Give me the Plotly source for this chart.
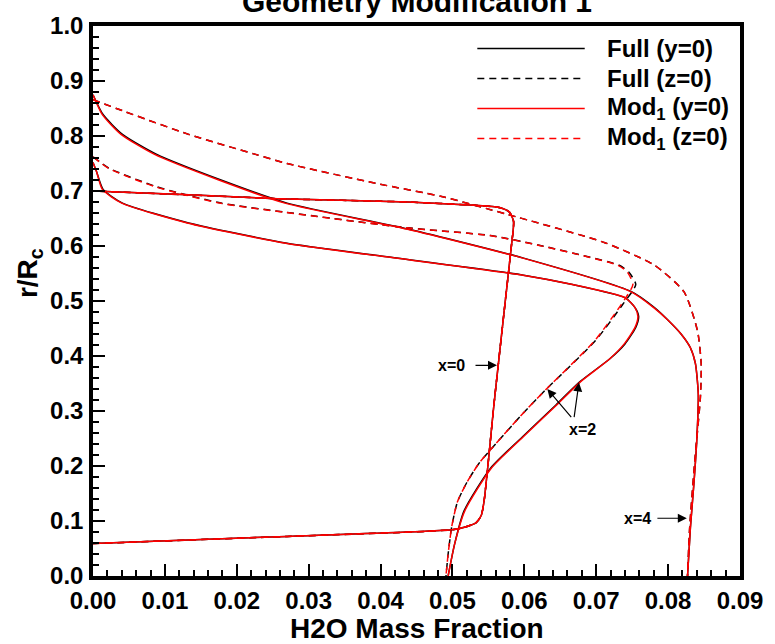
import plotly.graph_objects as go

# radial positions (r/Rc) along each profile
r_x0 = [0.059, 0.072, 0.084, 0.089, 0.097, 0.110, 0.136, 0.315, 0.494, 0.600, 0.645,
        0.662, 0.670, 0.674, 0.680, 0.686, 0.693, 0.700]
r_x2_y0 = [0.752, 0.735, 0.703, 0.678, 0.642, 0.605, 0.583, 0.547, 0.530, 0.506, 0.488,
           0.472, 0.452, 0.422, 0.395, 0.353, 0.311, 0.255, 0.196, 0.118, 0.058, 0.0]
r_x2_z0 = [0.762, 0.741, 0.708, 0.678, 0.661, 0.633, 0.619, 0.601, 0.580, 0.565, 0.553,
           0.530, 0.494, 0.428, 0.339, 0.297, 0.240, 0.205, 0.170, 0.135, 0.090, 0.040, 0.0]
r_x4_y0 = [0.875, 0.839, 0.803, 0.767, 0.720, 0.678, 0.631, 0.578, 0.517, 0.488, 0.465,
           0.440, 0.415, 0.386, 0.330, 0.250, 0.170, 0.088, 0.0]
r_x4_z0 = [0.866, 0.846, 0.803, 0.767, 0.750, 0.714, 0.690, 0.658, 0.606, 0.565, 0.517,
           0.445, 0.386, 0.327, 0.208, 0.088, 0.0]

# H2O mass fraction, full geometry
full_x0 = [0.0, 0.0270, 0.0499, 0.0518, 0.0533, 0.0540, 0.0544, 0.0558, 0.0573, 0.0582, 0.0585,
           0.0579, 0.0565, 0.0530, 0.0438, 0.0256, 0.0133, 0.0]
full_x2_y0 = [0.0, 0.0005, 0.0014, 0.0041, 0.0133, 0.0270, 0.0393, 0.0599, 0.0667, 0.0740, 0.0754,
              0.0759, 0.0755, 0.0740, 0.0719, 0.0677, 0.0644, 0.0599, 0.0553, 0.0516, 0.0503, 0.0494]
full_x2_z0 = [0.0, 0.0023, 0.0088, 0.0178, 0.0270, 0.0438, 0.0553, 0.0622, 0.0690, 0.0732, 0.0745,
              0.0755, 0.0737, 0.0699, 0.0630, 0.0599, 0.0560, 0.0537, 0.0520, 0.0507, 0.0499, 0.0494,
              0.0491]
full_x4_y0 = [0.0, 0.0014, 0.0041, 0.0088, 0.0178, 0.0270, 0.0438, 0.0599, 0.0749, 0.0781, 0.0800,
              0.0818, 0.0831, 0.0838, 0.0842, 0.0840, 0.0836, 0.0831, 0.0827]
full_x4_z0 = [0.0, 0.0041, 0.0133, 0.0225, 0.0270, 0.0393, 0.0485, 0.0575, 0.0712, 0.0781, 0.0822,
              0.0841, 0.0846, 0.0845, 0.0837, 0.0830, 0.0827]

# H2O mass fraction, modification 1
mod_x0 = [0.0, 0.0270, 0.0499, 0.0518, 0.0533, 0.0540, 0.0544, 0.0558, 0.0573, 0.0582, 0.0585,
          0.0579, 0.0565, 0.0530, 0.0438, 0.0256, 0.0133, 0.0]
mod_x2_y0 = [0.0, 0.0005, 0.0013, 0.0040, 0.0131, 0.0268, 0.0392, 0.0598, 0.0667, 0.0740, 0.0754,
             0.0758, 0.0754, 0.0739, 0.0719, 0.0678, 0.0645, 0.0600, 0.0554, 0.0517, 0.0503, 0.0494]
mod_x2_z0 = [0.0, 0.0022, 0.0086, 0.0176, 0.0268, 0.0437, 0.0552, 0.0621, 0.0689, 0.0730, 0.0743,
             0.0751, 0.0735, 0.0698, 0.0630, 0.0599, 0.0560, 0.0537, 0.0520, 0.0507, 0.0499, 0.0494,
             0.0491]
mod_x4_y0 = [0.0, 0.0013, 0.0039, 0.0085, 0.0175, 0.0267, 0.0436, 0.0598, 0.0748, 0.0780, 0.0800,
             0.0818, 0.0831, 0.0838, 0.0842, 0.0840, 0.0836, 0.0831, 0.0827]
mod_x4_z0 = [0.0, 0.0041, 0.0133, 0.0225, 0.0270, 0.0393, 0.0485, 0.0575, 0.0712, 0.0781, 0.0822,
             0.0841, 0.0846, 0.0845, 0.0837, 0.0830, 0.0827]

legend_labels = ["Full (y=0)", "Full (z=0)", "Mod<sub>1</sub> (y=0)", "Mod<sub>1</sub> (z=0)"]
legend_colors = ["black", "black", "red", "red"]

DASH = "7px,5px"
FONT = "Liberation Sans"

fig = go.Figure()

series = [
    (full_x0, r_x0, "black", "solid"),
    (full_x2_y0, r_x2_y0, "black", "solid"),
    (full_x4_y0, r_x4_y0, "black", "solid"),
    (full_x0, r_x0, "black", DASH),
    (full_x2_z0, r_x2_z0, "black", DASH),
    (full_x4_z0, r_x4_z0, "black", DASH),
    (mod_x0, r_x0, "red", "solid"),
    (mod_x2_y0, r_x2_y0, "red", "solid"),
    (mod_x4_y0, r_x4_y0, "red", "solid"),
    (mod_x0, r_x0, "red", DASH),
    (mod_x2_z0, r_x2_z0, "red", DASH),
    (mod_x4_z0, r_x4_z0, "red", DASH),
]
for xs, ys, color, dash in series:
    fig.add_trace(go.Scatter(x=xs, y=ys, mode="lines", showlegend=False,
                             line=dict(color=color, width=1.5, dash=dash,
                                       shape="spline", smoothing=0.6)))

# hand-drawn legend (long line samples like the original)
shapes = []
annotations = []
for i, (label, color) in enumerate(zip(legend_labels, legend_colors)):
    yy = 0.959 - i * 0.0545
    shapes.append(dict(type="line", xref="paper", yref="paper", x0=0.594, x1=0.760, y0=yy, y1=yy,
                       line=dict(color=color, width=1.5, dash="solid" if i % 2 == 0 else DASH)))
    annotations.append(dict(xref="paper", yref="paper", x=0.792, y=yy, text=label, showarrow=False,
                            xanchor="left", yanchor="middle",
                            font=dict(family=FONT, size=24, color="black", weight="bold")))

# station labels
lab_font = dict(family=FONT, size=16, color="black", weight="bold")
arrow = dict(showarrow=True, arrowhead=2, arrowsize=1.5, arrowwidth=1.2, arrowcolor="black",
             axref="x", ayref="y", text="")
annotations += [
    dict(x=0.0499, y=0.383, text="x=0", showarrow=False, font=lab_font),
    dict(x=0.0562, y=0.383, ax=0.0530, ay=0.383, **arrow),
    dict(x=0.0681, y=0.2665, text="x=2", showarrow=False, font=lab_font),
    dict(x=0.0632, y=0.340, ax=0.0667, ay=0.286, **arrow),
    dict(x=0.0676, y=0.352, ax=0.0669, ay=0.286, **arrow),
    dict(x=0.0758, y=0.104, text="x=4", showarrow=False, font=lab_font),
    dict(x=0.0826, y=0.105, ax=0.0783, ay=0.105, **arrow),
]

# titles
annotations += [
    dict(xref="paper", yref="paper", x=0.5, y=1.0, yanchor="bottom", yshift=6,
         text="Geometry Modification 1", showarrow=False,
         font=dict(family=FONT, size=30, color="black", weight="bold")),
    dict(xref="paper", yref="paper", x=0.5, y=-0.0948, yanchor="middle",
         text="H2O Mass Fraction", showarrow=False,
         font=dict(family=FONT, size=28, color="black", weight="bold")),
    dict(xref="paper", yref="paper", x=-0.098, y=0.55, xanchor="center", yanchor="middle",
         textangle=-90, text="r/R<sub>c</sub>", showarrow=False,
         font=dict(family=FONT, size=28, color="black", weight="bold")),
]

axis_common = dict(ticks="inside", ticklen=12, tickwidth=2, tickcolor="black",
                   showline=True, linewidth=3.5, linecolor="black", mirror=True,
                   showgrid=False, zeroline=False,
                   tickfont=dict(family=FONT, size=24, color="black", weight="bold"))

fig.update_layout(
    width=775, height=644,
    margin=dict(l=93, r=25, t=17, b=68),
    plot_bgcolor="white", paper_bgcolor="white",
    showlegend=False,
    shapes=shapes, annotations=annotations,
    xaxis=dict(range=[0, 0.09], dtick=0.01, tickformat=".2f", ticklabelstandoff=0,
               minor=dict(dtick=0.002, ticks="inside", ticklen=6, tickwidth=1.5, tickcolor="black"),
               **axis_common),
    yaxis=dict(range=[0, 1.0], dtick=0.1, tickformat=".1f", ticklabelstandoff=1,
               minor=dict(dtick=0.02, ticks="inside", ticklen=6, tickwidth=1.5, tickcolor="black"),
               **axis_common),
)

# drop the default page margin so the figure sits at the window's corner
fig.write_html("out.html", config={"displayModeBar": False},
               post_script="document.body.style.margin='0';")
